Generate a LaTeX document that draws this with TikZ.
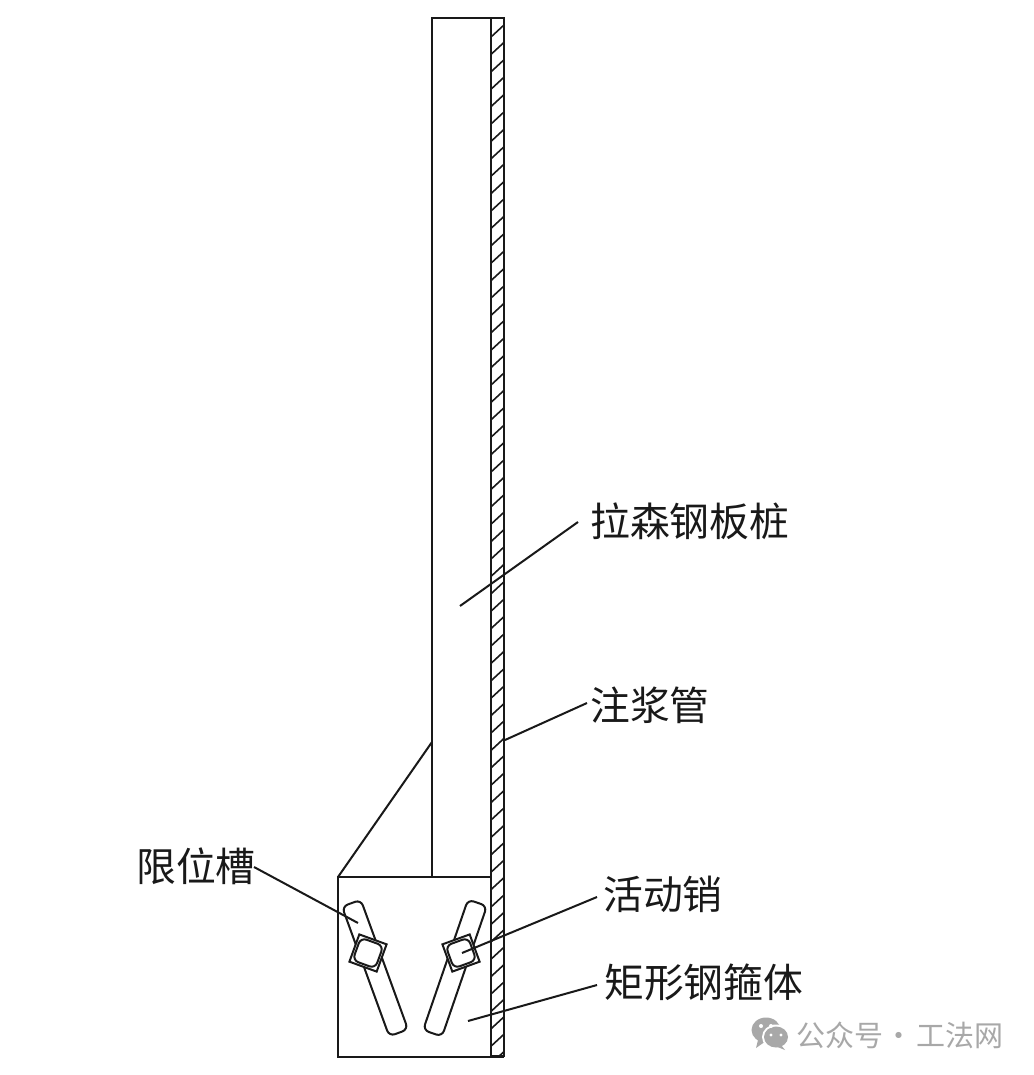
\documentclass[tikz,border=0pt]{standalone}
\usepackage{fontspec}
\newfontfamily\cjk{Noto Sans CJK SC}
\begin{document}
\begin{tikzpicture}[x=1pt,y=-1pt,
  part/.style={draw=ink,line width=2.7pt},
  thin part/.style={draw=ink,line width=2pt},
  leader/.style={draw=ink,line width=2pt},
  hatch/.style={draw=ink,line width=1.6pt},
  slot/.style={thin part,fill=white,rounded corners=6pt,minimum width=138pt,minimum height=20pt,inner sep=0pt,shape=rectangle},
  pinout/.style={thin part,fill=white,minimum size=29pt,inner sep=0pt,shape=rectangle},
  pinin/.style={thin part,fill=white,rounded corners=6pt,minimum size=24pt,inner sep=0pt,shape=rectangle},
  lab/.style={anchor=west,inner sep=0pt,text=ink,font=\cjk\fontsize{39.8}{40}\selectfont},
  wmtext/.style={anchor=west,inner sep=0pt,text=wm,font=\cjk\fontsize{29}{30}\selectfont}]
\definecolor{ink}{gray}{0.1}
\definecolor{wm}{gray}{0.66}
\useasboundingbox (0,0) rectangle (1033,1075);
\fill[white] (0,0) rectangle (1033,1075);
% hatching of the grouting pipe
\begin{scope}
  \clip (491,18) rectangle (504,1056);
  \foreach \k in {0,...,60} \draw[hatch] (491,37+17.4*\k) -- (504,25+17.4*\k);
\end{scope}
% sheet pile, pipe, box
\draw[part] (432,877) -- (432,18) -- (504,18) -- (504,1056) -- (491,1056);
\draw[part] (491,18) -- (491,1056);
\draw[part] (338,877) rectangle (491,1057);
\draw[part] (491,1057) -- (504,1057);
% slots
\node[slot,rotate=-70] (slotL) at (375,968) {};
\node[slot,rotate=71] (slotR) at (455,968) {};
% pins
\node[pinout,rotate=-20] (pinLo) at (368,953) {};
\node[pinin,rotate=-20] (pinLi) at (368,953) {};
\node[pinout,rotate=20] (pinRo) at (461,953) {};
\node[pinin,rotate=20] (pinRi) at (461,953) {};
% labels
\node[lab] (l1) at (590,521) {拉森钢板桩};
\node[lab] (l2) at (590,705) {注浆管};
\node[lab] (l3) at (136,866) {限位槽};
\node[lab] (l4) at (603,894) {活动销};
\node[lab] (l5) at (604,982) {矩形钢箍体};
% leader ends
\coordinate (e1) at (460,606);
\coordinate (e2) at (505,740);
\coordinate (e3) at (358,923);
\coordinate (e4) at (462,953);
\coordinate (e5) at (468,1021);
\coordinate (s1) at (578,522);
\coordinate (s2) at (587,703);
\coordinate (s3) at (254,867);
\coordinate (s4) at (597,897);
\coordinate (s5) at (597,985);
\coordinate (d1) at (432,742);
\coordinate (d2) at (338,877);
\draw[leader] (s1) -- (e1);
\draw[leader] (s2) -- (e2);
\draw[leader] (s3) -- (e3);
\draw[leader] (s4) -- (e4);
\draw[leader] (s5) -- (e5);
\draw[leader] (d1) -- (d2);
% watermark
\fill[wm] (766,1030) ellipse [x radius=14.5pt,y radius=12.5pt];
\fill[wm] (758,1040) -- (756,1048) -- (766,1041) -- cycle;
\fill[white] (776,1037) ellipse [x radius=14pt,y radius=12.5pt];
\fill[wm] (776,1037) ellipse [x radius=12pt,y radius=10.5pt];
\fill[wm] (781,1045) -- (785,1050) -- (775,1046) -- cycle;
\fill[white] (761,1026) circle (2pt) (771,1026) circle (2pt) (771,1035) circle (1.7pt) (781,1035) circle (1.7pt);
\node[wmtext] (w) at (796,1035) {公众号\hspace{1pt}·\hspace{3pt}工法网};
\end{tikzpicture}
\end{document}
